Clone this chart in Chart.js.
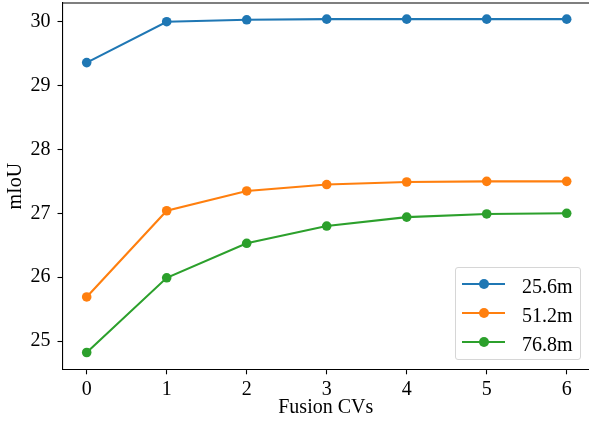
<!DOCTYPE html>
<html>
<head>
<meta charset="utf-8">
<script src="https://cdn.jsdelivr.net/npm/chart.js@4.4.0/dist/chart.umd.min.js"></script>
<style>
  html, body { margin: 0; padding: 0; background: #fff; overflow: hidden; }
  #wrap { position: relative; width: 589px; height: 427px; }
  #legend {
    position: absolute; left: 455px; top: 267px; width: 124px; height: 91px;
    border: 1px solid #d6d6d6; border-radius: 3px; background: rgba(255,255,255,0.8);
    font-family: 'Liberation Serif', 'Times New Roman', serif; font-size: 20px; color: #000;
  }
  .row { position: absolute; left: 0; width: 124px; height: 24px; line-height: 24px; }
  .row .ln { position: absolute; left: 6px; top: 11px; width: 43px; height: 2px; }
  .row .dot { position: absolute; left: 23px; top: 7px; width: 10px; height: 10px; border-radius: 50%; }
  .row .txt { position: absolute; left: 66px; top: 2px; white-space: nowrap; }
</style>
</head>
<body>
<div id="wrap">
  <canvas id="chart" width="589" height="427"></canvas>
  <div id="legend"></div>
</div>
<script>
// data
const cvCounts = [0, 1, 2, 3, 4, 5, 6];
const rangeLabels = ['25.6m', '51.2m', '76.8m'];
const miou256 = [29.36, 30.00, 30.03, 30.04, 30.04, 30.04, 30.04];
const miou512 = [25.69, 27.04, 27.35, 27.45, 27.49, 27.50, 27.50];
const miou768 = [24.82, 25.99, 26.53, 26.80, 26.94, 26.99, 27.00];
const yTicks = [25, 26, 27, 28, 29, 30];
const colors = ['#1f77b4', '#ff7f0e', '#2ca02c'];

const serif = 'Liberation Serif';
const series = [miou256, miou512, miou768];

// top spine (the right one falls just outside the picture, as in the reference)
const topSpine = {
  id: 'topSpine',
  afterDatasetsDraw(c) {
    const a = c.chartArea, ctx = c.ctx;
    ctx.save();
    ctx.strokeStyle = '#000';
    ctx.lineWidth = 1.1;
    ctx.beginPath();
    ctx.moveTo(a.left, a.top);
    ctx.lineTo(a.right, a.top);
    ctx.stroke();
    ctx.restore();
  }
};

const datasets = series.map((vals, i) => ({
  label: rangeLabels[i],
  data: vals.map((v, j) => ({ x: cvCounts[j], y: v })),
  borderColor: colors[i],
  backgroundColor: colors[i],
  pointBackgroundColor: colors[i],
  borderWidth: 2.1,
  pointRadius: 4.8,
  pointBorderWidth: 0,
  tension: 0,
  clip: false
}));

new Chart(document.getElementById('chart'), {
  type: 'line',
  data: { datasets },
  options: {
    responsive: false,
    animation: false,
    devicePixelRatio: 1,
    layout: { autoPadding: false, padding: { top: 3, right: 0, left: 0, bottom: 0 } },
    plugins: { legend: { display: false }, tooltip: { enabled: false } },
    scales: {
      x: {
        type: 'linear',
        min: -0.3025,
        max: 6.2788,
        afterBuildTicks: s => { s.ticks = cvCounts.map(v => ({ value: v })); },
        afterFit: s => { s.height = 57.7; s.paddingLeft = 0; s.paddingRight = 0; },
        grid: { drawOnChartArea: false, drawTicks: true, tickLength: 5, tickColor: '#000', tickWidth: 1.1 },
        border: { display: true, color: '#000', width: 1.1 },
        ticks: { color: '#000', padding: 3, font: { family: serif, size: 20 }, maxRotation: 0 },
        title: { display: true, text: 'Fusion CVs', color: '#000', font: { family: serif, size: 20 }, padding: { top: 0, bottom: 7 } }
      },
      y: {
        min: 24.557,
        max: 30.293,
        afterBuildTicks: s => { s.ticks = yTicks.map(v => ({ value: v })); },
        afterFit: s => { s.width = 62.5; s.paddingTop = 0; s.paddingBottom = 0; },
        grid: { drawOnChartArea: false, drawTicks: true, tickLength: 5, tickColor: '#000', tickWidth: 1.1 },
        border: { display: true, color: '#000', width: 1.1 },
        ticks: { color: '#000', padding: 7, font: { family: serif, size: 20 } },
        title: { display: true, text: 'mIoU', color: '#000', font: { family: serif, size: 20 }, padding: { top: 4, bottom: 0 } }
      }
    }
  },
  plugins: [topSpine]
});

// legend box, built from the same labels and colours
const rowCenters = [15.6, 45, 74.3];
const legend = document.getElementById('legend');
rangeLabels.forEach((lab, i) => {
  const row = document.createElement('div');
  row.className = 'row';
  row.style.top = (rowCenters[i] - 12) + 'px';
  row.innerHTML = `<span class="ln" style="background:${colors[i]}"></span>` +
    `<span class="dot" style="background:${colors[i]}"></span>` +
    `<span class="txt">${lab}</span>`;
  legend.appendChild(row);
});
</script>
</body>
</html>
